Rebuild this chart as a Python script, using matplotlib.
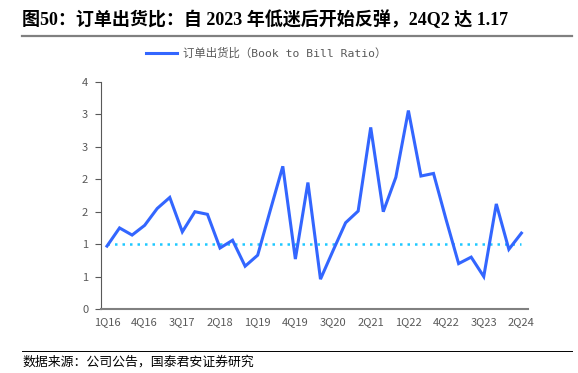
import matplotlib
matplotlib.use("Agg")
import matplotlib.pyplot as plt
from matplotlib.ticker import FuncFormatter, MultipleLocator
from matplotlib.lines import Line2D
import numpy as np

plt.rcParams['font.family'] = ['Noto Sans CJK SC', 'DejaVu Sans']

quarters = []
for y in range(16, 25):
    for q in range(1, 5):
        if y == 24 and q > 2:
            break
        quarters.append(f"{q}Q{y}")

ratio = [0.97, 1.25, 1.14, 1.29, 1.55, 1.72, 1.19, 1.50, 1.46, 0.94,
         1.06, 0.66, 0.83, 1.52, 2.20, 0.77, 1.95, 0.46, 0.90, 1.33,
         1.51, 2.80, 1.50, 2.03, 3.06, 2.05, 2.09, 1.38, 0.70, 0.80,
         0.50, 1.62, 0.92, 1.17]
baseline = [1.0] * len(quarters)

title = "图50：订单出货比：自 2023 年低迷后开始反弹，24Q2 达 1.17"
legend_label = "订单出货比（Book to Bill Ratio）"
source = "数据来源：公司公告，国泰君安证券研究"

W, H = 578, 373
fig = plt.figure(figsize=(W / 100, H / 100), dpi=100)
ax = fig.add_axes([100.7 / W, 1 - 309 / H, 427 / W, 227 / H])

x = np.arange(len(quarters))
ax.plot(x, baseline, color='#1EC8FF', linestyle=(0, (1, 2)), linewidth=1.8)
ax.plot(x, ratio, color='#3366FF', linewidth=2.2, solid_joinstyle='miter')

ax.set_xlim(-0.5, len(quarters) - 0.5)
ax.set_ylim(0, 3.5)
ax.yaxis.set_major_locator(MultipleLocator(0.5))
ax.yaxis.set_major_formatter(FuncFormatter(lambda v, p: f"{int(np.floor(v + 0.5 + 1e-9))}"))
ax.set_xticks(x[::3])
ax.set_xticklabels(quarters[::3])

for s in ['top', 'right']:
    ax.spines[s].set_visible(False)
ax.spines['left'].set_color('#595959')
ax.spines['left'].set_linewidth(0.8)
ax.spines['bottom'].set_color('#808080')
ax.spines['bottom'].set_linewidth(1.5)
ax.tick_params(axis='y', length=4, width=0.8, color='#595959', labelcolor='#595959',
               labelsize=8, pad=5)
ax.tick_params(axis='x', length=0, labelcolor='#595959', labelsize=8, pad=6)

# legend
h = Line2D([], [], color='#3366FF', linewidth=2.2)
leg = fig.legend([h], [legend_label], loc='center', bbox_to_anchor=(266 / W, 1 - 53 / H),
                 frameon=False, handlelength=2.8, labelcolor='#595959',
                 handletextpad=0.5,
                 prop={'family': ['DejaVu Sans Mono', 'Noto Sans CJK SC'], 'size': 8.2})

# title and rules
fig.text(22 / W, 1 - 20 / H, title, fontsize=13, fontweight='bold',
         family=['Liberation Serif', 'Noto Sans CJK SC'], va='center', ha='left', color='black')
fig.add_artist(Line2D([22 / W, 572 / W], [1 - 36 / H, 1 - 36 / H], color='#808080', linewidth=1.6))
fig.add_artist(Line2D([22 / W, 572 / W], [1 - 351 / H, 1 - 351 / H], color='black', linewidth=0.7))
fig.text(22 / W, 1 - 362 / H, source, fontsize=9.3, va='center', ha='left', color='black')

fig.savefig("out.png", dpi=100, facecolor='white')
